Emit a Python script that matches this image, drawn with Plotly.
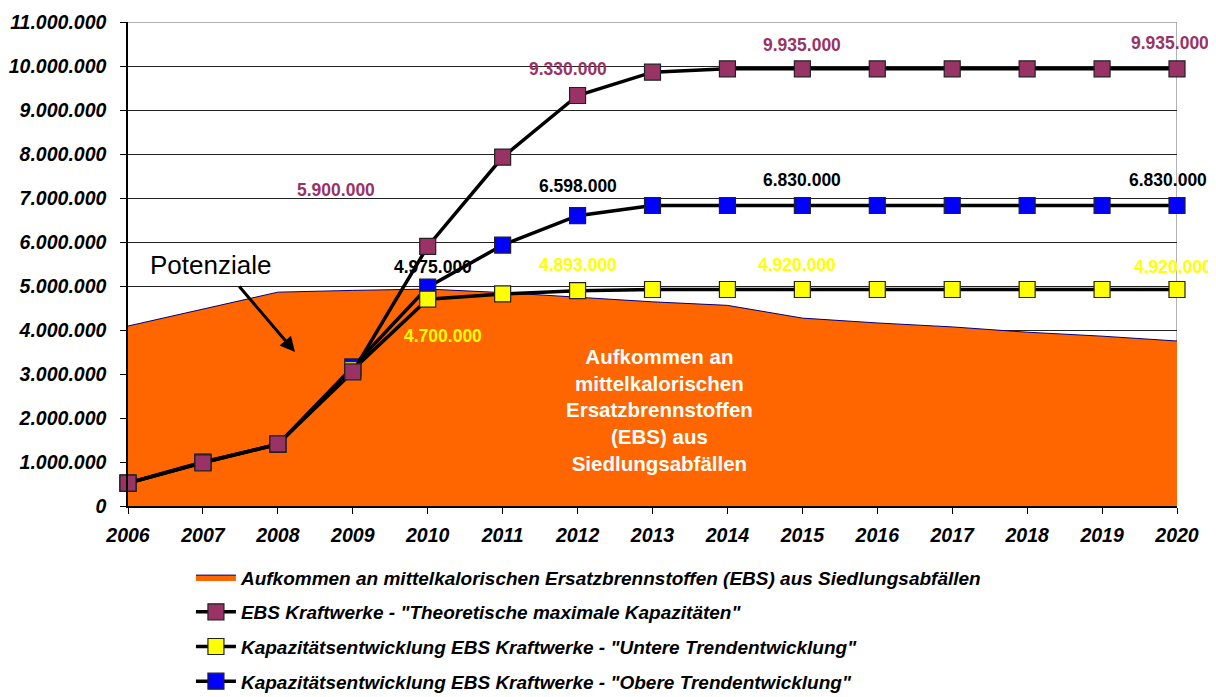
import plotly.graph_objects as go

# Data
years = list(range(2006, 2021))

aufkommen = [4090000, 4480000, 4860000, 4900000, 4930000, 4850000, 4750000, 4640000,
             4560000, 4270000, 4160000, 4070000, 3950000, 3860000, 3750000]

theoretisch = [520000, 980000, 1410000, 3050000, 5900000, 7930000, 9330000, 9860000,
               9935000, 9935000, 9935000, 9935000, 9935000, 9935000, 9935000]

untere = [520000, 990000, 1400000, 3100000, 4700000, 4820000, 4893000, 4920000,
          4920000, 4920000, 4920000, 4920000, 4920000, 4920000, 4920000]

obere = [520000, 1000000, 1400000, 3160000, 4975000, 5930000, 6598000, 6830000,
         6830000, 6830000, 6830000, 6830000, 6830000, 6830000, 6830000]

names = [
    'Aufkommen an mittelkalorischen Ersatzbrennstoffen (EBS) aus Siedlungsabfällen',
    'EBS Kraftwerke - "Theoretische maximale Kapazitäten"',
    'Kapazitätsentwicklung EBS Kraftwerke - "Untere Trendentwicklung"',
    'Kapazitätsentwicklung EBS Kraftwerke - "Obere Trendentwicklung"',
]

PURPLE = '#993366'
YELLOW = '#FFFF00'
BLUE = '#0000FF'
ORANGE = '#FF6600'
FONT = 'Liberation Sans, Arial, sans-serif'


def fmt(v):
    return f"{v:,}".replace(',', '.')


fig = go.Figure()

fig.add_trace(go.Scatter(
    x=years, y=aufkommen, name=names[0], mode='lines',
    fill='tozeroy', fillcolor=ORANGE,
    line=dict(color='#000080', width=1),
    legendrank=1, legendgroup='a',
))


def line_trace(y, color, name, rank):
    return go.Scatter(
        x=years, y=y, name=name, mode='lines+markers',
        line=dict(color='black', width=3.5),
        marker=dict(symbol='square', size=16, color=color,
                    line=dict(color='#222222', width=1.2)),
        cliponaxis=False, legendrank=rank, legendgroup=name,
    )


fig.add_trace(line_trace(obere, BLUE, names[3], 4))
fig.add_trace(line_trace(untere, YELLOW, names[2], 3))
fig.add_trace(line_trace(theoretisch, PURPLE, names[1], 2))

# value labels: (series, year index, color, xshift, yshift)
labels = [
    (theoretisch, 4, PURPLE, -92, 56),
    (theoretisch, 6, PURPLE, -10, 26),
    (theoretisch, 9, PURPLE, 0, 24),
    (theoretisch, 14, PURPLE, -7, 26),
    (obere, 4, 'black', 5, 20),
    (obere, 6, 'black', 0, 30),
    (obere, 9, 'black', 0, 25),
    (obere, 14, 'black', -9, 25),
    (untere, 4, YELLOW, 15, -37),
    (untere, 6, YELLOW, 0, 26),
    (untere, 9, YELLOW, -5, 25),
    (untere, 14, YELLOW, -4, 23),
]
for series, i, color, dx, dy in labels:
    fig.add_annotation(
        x=years[i], y=series[i], text=fmt(series[i]), showarrow=False,
        xshift=dx, yshift=dy,
        font=dict(family=FONT, size=17.5, color=color, weight='bold'),
    )

# "Potenziale" callout
fig.add_annotation(
    x=2006 + (210 - 128) / 74.93, y=(506 - 265) / 44 * 1e6,
    text='Potenziale', showarrow=False,
    font=dict(family=FONT, size=26, color='black'),
)
fig.add_annotation(
    x=2006 + (295 - 128) / 74.93, y=(506 - 352) / 44 * 1e6,
    text='', showarrow=True, ax=-57, ay=-67,
    arrowhead=2, arrowsize=1, arrowwidth=3, arrowcolor='black',
)

fig.add_annotation(
    x=2006 + (660 - 128) / 74.93, y=2.18e6,
    text='Aufkommen an<br>mittelkalorischen<br>Ersatzbrennstoffen<br>(EBS) aus<br>Siedlungsabfällen',
    showarrow=False, align='center',
    font=dict(family=FONT, size=20.5, color='white', weight='bold'),
)

# plot area border (top and right, grey)
fig.add_shape(type='line', xref='x', yref='y', x0=2006, x1=2020, y0=11e6, y1=11e6,
              line=dict(color='#999999', width=1.5))
fig.add_shape(type='line', xref='x', yref='y', x0=2020, x1=2020, y0=0, y1=11e6,
              line=dict(color='#999999', width=1.5), layer='below')

# the page body adds an 8px offset, so the figure is 8px smaller
fig.update_layout(
    width=1208, height=689,
    margin=dict(l=120, r=39, t=14, b=191, autoexpand=False),
    paper_bgcolor='white', plot_bgcolor='white',
    separators=',.',
    font=dict(family=FONT, color='black'),
    showlegend=True,
    legend=dict(
        x=0.06, y=-0.108, xanchor='left', yanchor='top',
        orientation='v', tracegroupgap=7, itemwidth=40,
        font=dict(family=FONT, size=19, color='black', weight='bold', style='italic'),
        bgcolor='rgba(0,0,0,0)',
    ),
    xaxis=dict(
        range=[2006, 2020], dtick=1, tick0=2006,
        showgrid=False, showline=True, linecolor='black', linewidth=1.5,
        ticks='outside', ticklen=6, tickcolor='black', ticklabelstandoff=5,
        tickfont=dict(family=FONT, size=19.5, weight='bold', style='italic'),
        zeroline=False, automargin=False,
    ),
    yaxis=dict(
        range=[0, 11e6], dtick=1e6, tickformat=',d',
        showgrid=True, gridcolor='#222222', gridwidth=1,
        showline=True, linecolor='black', linewidth=1.5,
        ticks='outside', ticklen=6, tickcolor='black', ticklabelstandoff=10,
        tickfont=dict(family=FONT, size=19.5, weight='bold', style='italic'),
        zeroline=False, automargin=False,
    ),
)

fig.write_html("out.html")
